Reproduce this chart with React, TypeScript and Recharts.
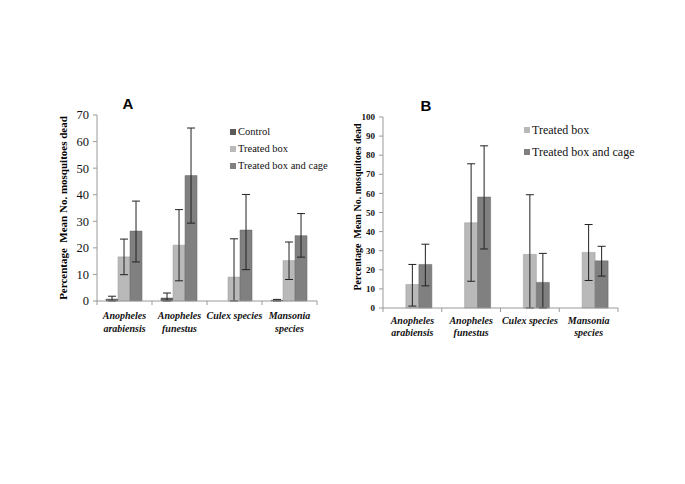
import React from "react";
import { BarChart, Bar, XAxis, YAxis, ErrorBar } from "recharts";

// categories and tick labels
const species = ["Anopheles arabiensis", "Anopheles funestus", "Culex species", "Mansonia species"];
const speciesLines = [
  ["Anopheles", "arabiensis"],
  ["Anopheles", "funestus"],
  ["Culex species"],
  ["Mansonia", "species"],
];
const ticksA = [0, 10, 20, 30, 40, 50, 60, 70];
const ticksB = [0, 10, 20, 30, 40, 50, 60, 70, 80, 90, 100];

// panel A values
const controlA = [0.7, 1.1, 0, 0.3];
const boxA = [16.6, 21.0, 9.0, 15.2];
const cageA = [26.3, 47.2, 26.7, 24.6];
// error bars as [below, above]
const controlErrA = [[0.7, 1.1], [1.1, 1.9], [0, 0], [0.3, 0.3]];
const boxErrA = [[6.7, 6.7], [13.4, 13.4], [9.0, 14.4], [7.1, 7.0]];
const cageErrA = [[11.6, 11.3], [17.9, 17.9], [14.9, 13.4], [8.1, 8.3]];

// panel B values
const boxB = [12.3, 44.6, 28.1, 29.1];
const cageB = [22.8, 58.1, 13.4, 24.7];
const boxErrB = [[11.3, 10.5], [30.6, 30.9], [28.1, 31.2], [14.7, 14.6]];
const cageErrB = [[11.2, 10.6], [27.2, 26.8], [13.4, 15.2], [8.0, 7.6]];

const dataA = species.map((s, i) => ({
  name: s,
  control: controlA[i],
  box: boxA[i],
  cage: cageA[i],
  controlErr: controlErrA[i],
  boxErr: boxErrA[i],
  cageErr: cageErrA[i],
}));

const dataB = species.map((s, i) => ({
  name: s,
  control: null,
  box: boxB[i],
  cage: cageB[i],
  boxErr: boxErrB[i],
  cageErr: cageErrB[i],
}));

const C_CONTROL = "#5b5b5b";
const C_BOX = "#b9b9b9";
const C_CAGE = "#808080";
const SERIF = "'Liberation Serif', 'Times New Roman', serif";

function makeTick(bw: number, fontSize: number, lineH: number, first: number) {
  return (props: any) => {
    const { x, y, payload } = props;
    const idx = species.indexOf(payload.value);
    const lines = speciesLines[idx] || [payload.value];
    return (
      <g>
        <line x1={x - bw / 2} x2={x - bw / 2} y1={y} y2={y + 4} stroke="#9a9a9a" />
        {idx === species.length - 1 && (
          <line x1={x + bw / 2} x2={x + bw / 2} y1={y} y2={y + 4} stroke="#9a9a9a" />
        )}
        {lines.map((t: string, k: number) => (
          <text
            key={k}
            x={x}
            y={y + first + k * lineH}
            textAnchor="middle"
            fontFamily={SERIF}
            fontStyle="italic"
            fontWeight="bold"
            fontSize={fontSize}
            fill="#111"
          >
            {t}
          </text>
        ))}
      </g>
    );
  };
}

function makeYTick(fontSize: number, bold: boolean) {
  return (props: any) => {
    const { x, y, payload } = props;
    return (
      <text
        x={x - 2}
        y={y}
        dy="0.35em"
        textAnchor="end"
        fontFamily={SERIF}
        fontWeight={bold ? "bold" : "normal"}
        fontSize={fontSize}
        fill="#111"
      >
        {payload.value}
      </text>
    );
  };
}

function LegendBox({ items, fontSize, rowH }: { items: { label: string; color: string }[]; fontSize: number; rowH: number }) {
  return (
    <div style={{ fontFamily: SERIF, fontSize, color: "#111" }}>
      {items.map((it) => (
        <div key={it.label} style={{ height: rowH, lineHeight: rowH + "px", whiteSpace: "nowrap", display: "flex", alignItems: "center" }}>
          <span style={{ display: "inline-block", width: 6, height: 6, background: it.color, marginRight: 2 }} />
          <span>{it.label}</span>
        </div>
      ))}
    </div>
  );
}

const abs = (left: number, top: number): React.CSSProperties => ({ position: "absolute", left, top });

export default function App() {
  return (
    <div style={{ position: "absolute", left: 0, top: 0, width: 685, height: 484, background: "#fff", overflow: "hidden" }}>
      {/* panel A */}
      <div style={{ ...abs(128, 103), transform: "translate(-50%,-50%)", fontFamily: "'Liberation Sans', Arial, sans-serif", fontWeight: "bold", fontSize: 15 }}>
        A
      </div>
      <div
        style={{
          ...abs(63, 208),
          transform: "translate(-50%,-50%) rotate(-90deg)",
          fontFamily: SERIF,
          fontWeight: "bold",
          fontSize: 11,
          whiteSpace: "pre",
        }}
      >
        {"Percentage  Mean No. mosquitoes dead"}
      </div>
      <div style={abs(40, 100)}>
        <BarChart
          width={300}
          height={240}
          data={dataA}
          margin={{ top: 15, right: 23, bottom: 0, left: 0 }}
          barCategoryGap="16.4%"
          barGap={0}
        >
          <XAxis
            dataKey="name"
            height={39}
            axisLine={{ stroke: "#9a9a9a" }}
            tickLine={false}
            tickSize={0}
            tickMargin={0}
            interval={0}
            tick={makeTick(55, 10, 13, 18)}
          />
          <YAxis
            width={57}
            domain={[0, 70]}
            ticks={ticksA}
            interval={0}
            axisLine={{ stroke: "#9a9a9a" }}
            tickLine={{ stroke: "#9a9a9a" }}
            tickSize={4}
            tick={makeYTick(12.5, false)}
          />
          <Bar dataKey="control" fill={C_CONTROL} stroke="#4a4a4a" strokeWidth={0.5} isAnimationActive={false}>
            <ErrorBar dataKey="controlErr" width={4} stroke="#222" strokeWidth={1} />
          </Bar>
          <Bar dataKey="box" fill={C_BOX} stroke="#999" strokeWidth={0.5} isAnimationActive={false}>
            <ErrorBar dataKey="boxErr" width={4} stroke="#222" strokeWidth={1} />
          </Bar>
          <Bar dataKey="cage" fill={C_CAGE} stroke="#666" strokeWidth={0.5} isAnimationActive={false}>
            <ErrorBar dataKey="cageErr" width={4} stroke="#222" strokeWidth={1} />
          </Bar>
        </BarChart>
      </div>
      <div style={abs(230, 123)}>
        <LegendBox
          fontSize={10.5}
          rowH={17}
          items={[
            { label: "Control", color: C_CONTROL },
            { label: "Treated box", color: C_BOX },
            { label: "Treated box and cage", color: C_CAGE },
          ]}
        />
      </div>

      {/* panel B */}
      <div style={{ ...abs(426, 105), transform: "translate(-50%,-50%)", fontFamily: "'Liberation Sans', Arial, sans-serif", fontWeight: "bold", fontSize: 15 }}>
        B
      </div>
      <div
        style={{
          ...abs(357, 207),
          transform: "translate(-50%,-50%) rotate(-90deg)",
          fontFamily: SERIF,
          fontWeight: "bold",
          fontSize: 10,
          whiteSpace: "pre",
        }}
      >
        {"Percentage  Mean No. mosquitoes dead"}
      </div>
      <div style={abs(340, 100)}>
        <BarChart
          width={300}
          height={240}
          data={dataB}
          margin={{ top: 17, right: 22, bottom: 0, left: 0 }}
          barCategoryGap="16.8%"
          barGap={0}
        >
          <XAxis
            dataKey="name"
            height={32}
            axisLine={{ stroke: "#9a9a9a" }}
            tickLine={false}
            tickSize={0}
            tickMargin={0}
            interval={0}
            tick={makeTick(58.75, 10, 12, 16)}
          />
          <YAxis
            width={43}
            domain={[0, 100]}
            ticks={ticksB}
            interval={0}
            axisLine={{ stroke: "#9a9a9a" }}
            tickLine={{ stroke: "#9a9a9a" }}
            tickSize={4}
            tick={makeYTick(9, true)}
          />
          <Bar dataKey="control" fill={C_CONTROL} isAnimationActive={false} legendType="none" />
          <Bar dataKey="box" fill={C_BOX} stroke="#999" strokeWidth={0.5} isAnimationActive={false}>
            <ErrorBar dataKey="boxErr" width={4} stroke="#222" strokeWidth={1} />
          </Bar>
          <Bar dataKey="cage" fill={C_CAGE} stroke="#666" strokeWidth={0.5} isAnimationActive={false}>
            <ErrorBar dataKey="cageErr" width={4} stroke="#222" strokeWidth={1} />
          </Bar>
        </BarChart>
      </div>
      <div style={abs(524, 119)}>
        <LegendBox
          fontSize={12}
          rowH={22}
          items={[
            { label: "Treated box", color: C_BOX },
            { label: "Treated box and cage", color: C_CAGE },
          ]}
        />
      </div>
    </div>
  );
}
